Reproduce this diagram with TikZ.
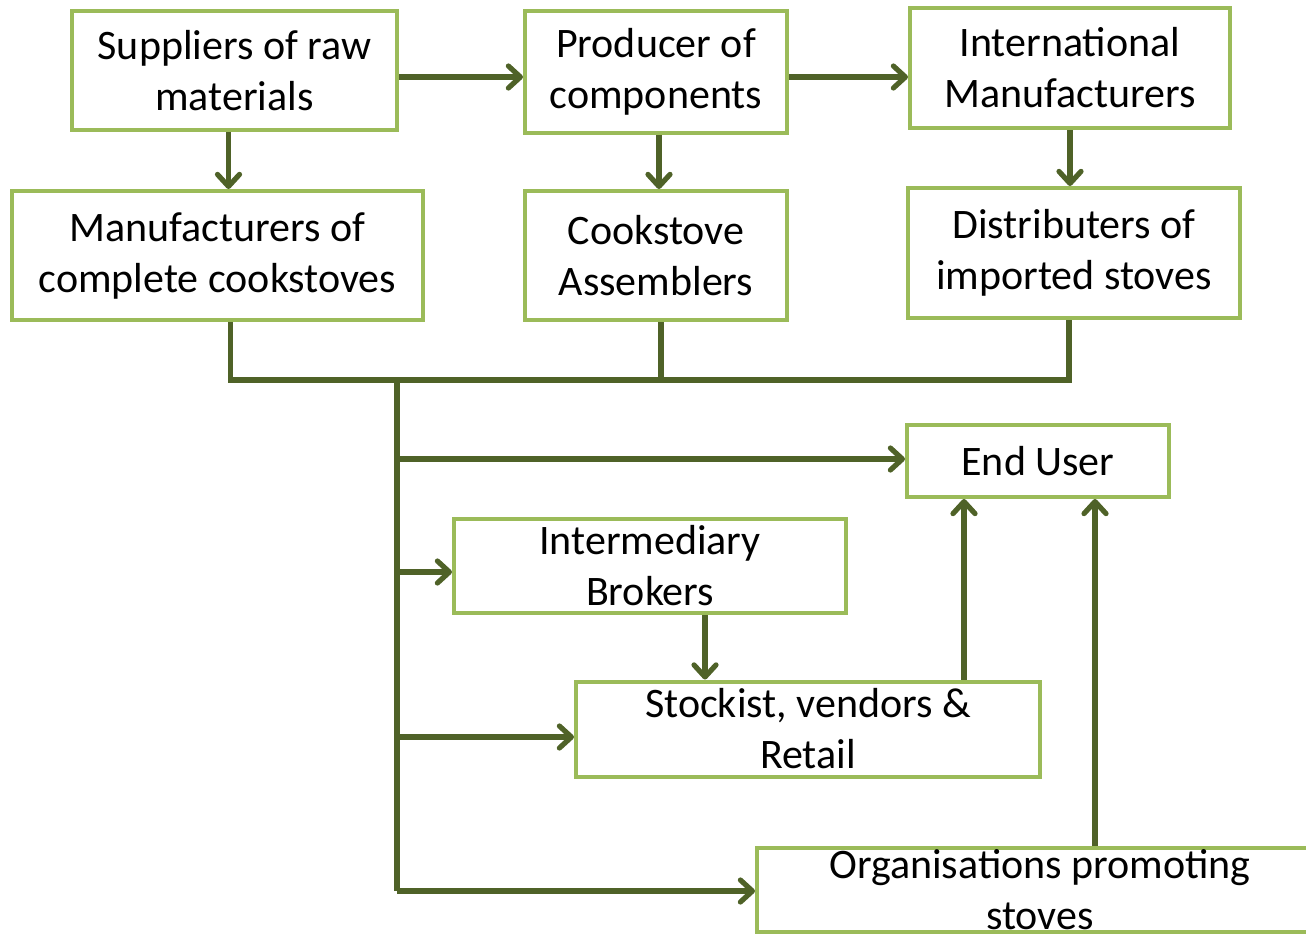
\documentclass[tikz,border=0pt]{standalone}
\usepackage{fontspec}
\setmainfont{Carlito}
\usetikzlibrary{arrows.meta,positioning}
\definecolor{boxgreen}{HTML}{9BBB59}
\definecolor{arrgreen}{HTML}{4F6228}

\begin{document}
\begin{tikzpicture}[x=0.5pt,y=-0.5pt,
    box/.style={draw=boxgreen, line width=2pt, fill=white, align=center,
      inner sep=0pt, font=\fontsize{21}{25.5}\selectfont},
    arr/.style={draw=arrgreen, line width=2.6pt, -{Straight Barb[round,length=6pt,width=11pt]}},
    bus/.style={draw=arrgreen, line width=2.6pt}]
    \path[use as bounding box] (0,0) rectangle (1306,934);
    \clip (0,0) rectangle (1306,934);

    % top row
    \node [box, minimum width=162.5pt, minimum height=59.5pt] (sup) at (234.5,70.5) {Suppliers of raw\\materials};
    \node [box, minimum width=131pt, minimum height=61pt] (prod) at (656,72) {Producer of\\components};
    \node [box, minimum width=160pt, minimum height=60pt] (intl) at (1070,68) {International\\Manufacturers};

    % second row
    \node [box, minimum width=205.5pt, minimum height=64.5pt] (mfr) at (217.5,255.5) {Manufacturers of\\complete cookstoves};
    \node [box, minimum width=131pt, minimum height=64.5pt] (asm) at (656,255.5) {Cookstove\\Assemblers};
    \node [box, minimum width=166pt, minimum height=65pt] (dist) at (1074,253) {Distributers of\\imported stoves};

    % lower part
    \node [box, minimum width=131pt, minimum height=36pt] (end) at (1038,461) {End User};
    \node [box, minimum width=196pt, minimum height=47pt] (brok) at (650,566) {Intermediary\\Brokers};
    \node [box, minimum width=232pt, minimum height=47.5pt] (stock) at (808,729) {Stockist, vendors \&\\Retail};
    \node [box, minimum width=283pt, minimum height=42pt] (org) at (1040,890) {Organisations promoting\\stoves};

    \coordinate (bus) at (397,380);
    \coordinate (trunk) at (397,891);

    \path[arr] ([yshift=-3.25pt]sup.east) -- ([yshift=-3.25pt]sup.east -| prod.west);
    \path[arr] ([yshift=-2.5pt]prod.east) -- ([yshift=-2.5pt]prod.east -| intl.west);
    \path[arr] ([xshift=-3pt]sup.south) -- ([xshift=-3pt]sup.south |- mfr.north);
    \path[arr] ([xshift=1.5pt]prod.south) -- ([xshift=1.5pt]prod.south |- asm.north);
    \path[arr] (intl.south) -- (intl.south |- dist.north);

    % collecting line and trunk
    \path[bus] ([xshift=6.5pt]mfr.south) |- (bus) -| ([xshift=-2.5pt]dist.south);
    \path[bus] ([xshift=2.5pt]asm.south) -- ([xshift=2.5pt]asm.south |- bus);
    \path[bus] (bus) -- (trunk);

    \path[arr] ([xshift=1.5pt,yshift=1pt]trunk |- end.west) -- ([yshift=1pt]end.west);
    \path[arr] ([xshift=1.5pt,yshift=-3pt]trunk |- brok.west) -- ([yshift=-3pt]brok.west);
    \path[arr] ([xshift=1.5pt,yshift=-4pt]trunk |- stock.west) -- ([yshift=-4pt]stock.west);
    \path[arr] (trunk) -- (trunk -| org.west);

    \path[arr] ([xshift=27.5pt]brok.south) -- ([xshift=27.5pt]brok.south |- stock.north);
    \path[arr] (stock.north -| 964,0) -- (end.south -| 964,0);
    \path[arr] (org.north -| 1095,0) -- (end.south -| 1095,0);
\end{tikzpicture}
\end{document}
